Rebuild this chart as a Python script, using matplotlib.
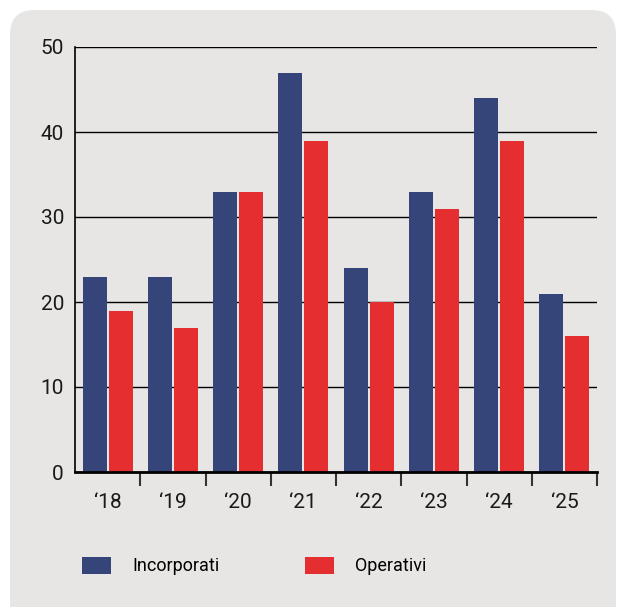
import numpy as np
import matplotlib.pyplot as plt
from matplotlib.patches import FancyBboxPatch

# data
years = ["\u201818", "\u201819", "\u201820", "\u201821", "\u201822", "\u201823", "\u201824", "\u201825"]
incorporati = [23, 23, 33, 47, 24, 33, 44, 21]
operativi = [19, 17, 33, 39, 20, 31, 39, 16]

BLUE = "#35457a"
RED = "#e52e30"
PANEL = "#e7e6e5"

plt.rcParams['font.family'] = ['Roboto', 'DejaVu Sans']

W, H = 619, 607
fig = plt.figure(figsize=(W / 100, H / 100), dpi=100)
fig.patch.set_facecolor("white")

# rounded grey panel behind the chart
panel = FancyBboxPatch((10 / W, -30 / H), 606 / W, (H - 10 + 30) / H,
                       boxstyle="round,pad=0,rounding_size=0.04",
                       transform=fig.transFigure, facecolor=PANEL,
                       edgecolor="none", zorder=-10)
fig.patches.append(panel)

ax = fig.add_axes([75 / W, 135 / H, 522 / W, 425 / H])
ax.set_facecolor("none")

x = np.arange(len(years)) + 0.5
w = 0.367
ax.bar(x - 0.2, incorporati, width=w, color=BLUE, label="Incorporati", zorder=2)
ax.bar(x + 0.2, operativi, width=w, color=RED, label="Operativi", zorder=2)

ax.set_xlim(0, len(years))
ax.set_ylim(0, 50)
ax.set_yticks([0, 10, 20, 30, 40, 50])
ax.yaxis.grid(True, color="black", linewidth=1.0, zorder=1)
ax.set_axisbelow(True)

# x labels at group centres, tick marks at group boundaries
ax.set_xticks(x)
ax.set_xticklabels(years)
ax.tick_params(axis="x", which="major", length=0, pad=15, labelsize=15, labelcolor="#1a1a1a")
ax.set_xticks(np.arange(1, len(years) + 1), minor=True)
ax.tick_params(axis="x", which="minor", length=10, width=1.5, color="#333333", direction="out")
ax.tick_params(axis="y", length=0, pad=8, labelsize=15, labelcolor="#1a1a1a")

for s in ["top", "right"]:
    ax.spines[s].set_visible(False)
ax.spines["bottom"].set_linewidth(2)
ax.spines["left"].set_linewidth(1.2)
ax.spines["bottom"].set_zorder(3)

fig.legend(loc="center left", bbox_to_anchor=(82 / W, 1 - 566 / H),
           ncol=2, frameon=False, fontsize=13, handlelength=1.6,
           handleheight=1.1, handletextpad=1.2, columnspacing=4.7,
           borderpad=0, borderaxespad=0)

fig.savefig("out.png", dpi=100)
